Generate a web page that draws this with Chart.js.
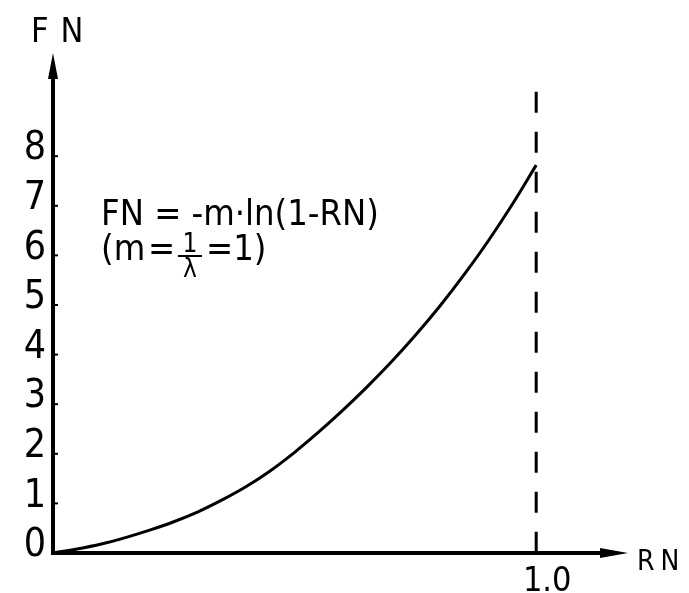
<!DOCTYPE html>
<html>
<head>
<meta charset="utf-8">
<script src="https://cdn.jsdelivr.net/npm/chart.js@4"></script>
<style>
    html, body { margin: 0; padding: 0; background: #fff; }
    #wrap { width: 689px; height: 593px; }
</style>
</head>
<body>
<div id="wrap"><canvas id="fnChart" width="689" height="593"></canvas></div>
<script>
// Data
const rnValues = [0, 0.05, 0.10, 0.15, 0.20, 0.25, 0.30, 0.35, 0.40, 0.45, 0.50,
                  0.55, 0.60, 0.65, 0.70, 0.75, 0.80, 0.85, 0.90, 0.95, 1.00];
const fnValues = [0, 0.08, 0.18, 0.31, 0.46, 0.63, 0.83, 1.07, 1.34, 1.66, 2.03,
                  2.44, 2.88, 3.35, 3.85, 4.39, 4.97, 5.60, 6.28, 7.02, 7.82];
const yTicks = [0, 1, 2, 3, 4, 5, 6, 7, 8];
const xTicks = [1.0];
const xTickLabels = ['1.0'];
const limitX = 1.0;
const limitTop = 9.3;

const FONT = '"DejaVu Sans Condensed", "DejaVu Sans", sans-serif';

const curvePoints = rnValues.map((rn, i) => ({ x: rn, y: fnValues[i] }));
const limitLine = [{ x: limitX, y: limitTop }, { x: limitX, y: 0 }];

// hand-drawn style axes, arrows, labels
const axesPlugin = {
    id: 'sketchAxes',
    afterDatasetsDraw(chart) {
        const ctx = chart.ctx;
        const xs = chart.scales.x;
        const ys = chart.scales.y;
        const x0 = xs.getPixelForValue(0);
        const y0 = ys.getPixelForValue(0);
        const xEnd = xs.right;
        const yEnd = ys.top;

        ctx.save();
        ctx.strokeStyle = '#000';
        ctx.fillStyle = '#000';
        ctx.lineWidth = 4;
        ctx.lineCap = 'butt';

        // y axis
        ctx.beginPath();
        ctx.moveTo(x0, y0 + 2);
        ctx.lineTo(x0, yEnd + 14);
        ctx.stroke();
        ctx.beginPath();
        ctx.moveTo(x0, yEnd);
        ctx.lineTo(x0 - 5, yEnd + 26);
        ctx.lineTo(x0 + 5, yEnd + 26);
        ctx.closePath();
        ctx.fill();

        // x axis
        ctx.beginPath();
        ctx.moveTo(x0 - 2, y0);
        ctx.lineTo(xEnd - 14, y0);
        ctx.stroke();
        ctx.beginPath();
        ctx.moveTo(xEnd, y0);
        ctx.lineTo(xEnd - 28, y0 - 5);
        ctx.lineTo(xEnd - 28, y0 + 5);
        ctx.closePath();
        ctx.fill();

        // y ticks and labels
        ctx.lineWidth = 2;
        ctx.font = '39px ' + FONT;
        ctx.textAlign = 'right';
        ctx.textBaseline = 'middle';
        yTicks.forEach(v => {
            const py = ys.getPixelForValue(v);
            if (v > 0) {
                ctx.beginPath();
                ctx.moveTo(x0, py);
                ctx.lineTo(x0 + 5, py);
                ctx.stroke();
            }
            ctx.fillText(String(v), x0 - 7, py - 7);
        });

        // x tick labels
        ctx.textAlign = 'center';
        ctx.textBaseline = 'top';
        ctx.font = '34px ' + FONT;
        xTicks.forEach((v, i) => {
            ctx.fillText(xTickLabels[i], xs.getPixelForValue(v) + 11, y0 + 12);
        });

        // axis titles
        ctx.letterSpacing = '12px';
        ctx.textAlign = 'left';
        ctx.textBaseline = 'alphabetic';
        ctx.font = '34px ' + FONT;
        ctx.fillText('FN', 31, 42);
        ctx.letterSpacing = '6px';
        ctx.font = '28px ' + FONT;
        ctx.fillText('RN', xEnd + 9, y0 + 17);
        ctx.letterSpacing = '0px';

        // formula
        ctx.font = '36px ' + FONT;
        ctx.fillText('FN = -m·ln(1-RN)', 101, 225);
        const by = 260;
        ctx.fillText('(m', 101, by);
        ctx.fillText('=', 148, by);
        const fx = 190;
        ctx.font = '26px ' + FONT;
        ctx.textAlign = 'center';
        ctx.fillText('1', fx, by - 8);
        ctx.fillText('λ', fx, by + 17);
        ctx.lineWidth = 2;
        ctx.beginPath();
        ctx.moveTo(fx - 12, by - 4);
        ctx.lineTo(fx + 12, by - 4);
        ctx.stroke();
        ctx.textAlign = 'left';
        ctx.font = '36px ' + FONT;
        ctx.fillText('=1)', 206, by);

        ctx.restore();
    }
};

new Chart(document.getElementById('fnChart'), {
    type: 'line',
    data: {
        datasets: [{
            label: 'FN',
            data: curvePoints,
            borderColor: '#000',
            borderWidth: 3,
            pointRadius: 0,
            tension: 0.4,
            fill: false
        }, {
            label: 'RN = 1.0',
            data: limitLine,
            borderColor: '#000',
            borderWidth: 3,
            borderDash: [21, 19],
            pointRadius: 0,
            fill: false
        }]
    },
    options: {
        responsive: false,
        animation: false,
        devicePixelRatio: 1,
        layout: {
            padding: { left: 53, right: 61, top: 53, bottom: 40 }
        },
        plugins: {
            legend: { display: false },
            tooltip: { enabled: false }
        },
        scales: {
            x: { type: 'linear', min: 0, max: 1.19, display: false },
            y: { type: 'linear', min: 0, max: 10.08, display: false }
        }
    },
    plugins: [axesPlugin]
});
</script>
</body>
</html>
